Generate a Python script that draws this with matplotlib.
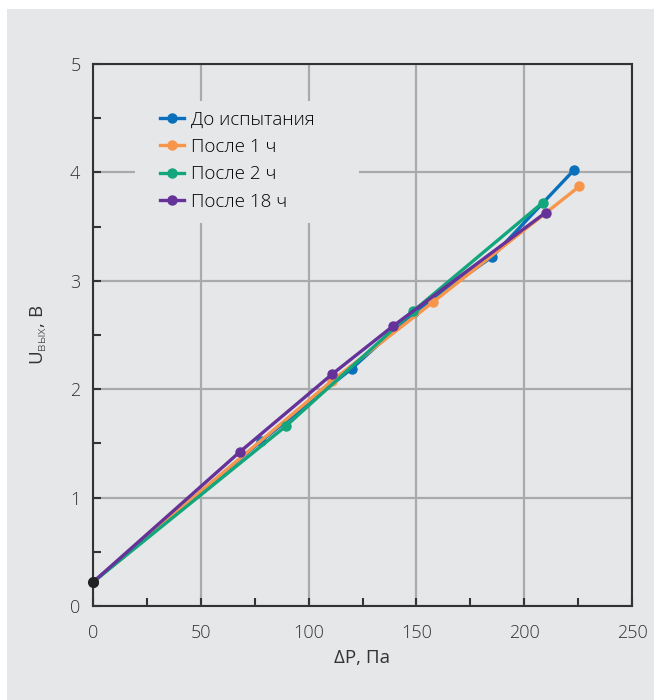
import matplotlib
matplotlib.use("Agg")
import matplotlib.pyplot as plt
from matplotlib.patches import Rectangle
from matplotlib.ticker import MultipleLocator

plt.rcParams['font.family'] = ['Open Sans', 'DejaVu Sans']
plt.rcParams['font.weight'] = 'light'
plt.rcParams['mathtext.fontset'] = 'custom'
plt.rcParams['mathtext.rm'] = 'Open Sans:light'

# data
labels = ['До испытания', 'После 1 ч', 'После 2 ч', 'После 18 ч']
colors = ['#0a70bb', '#f7964b', '#13a67d', '#65329a']

x_before = [0, 78, 120, 149, 185, 223]
y_before = [0.22, 1.52, 2.19, 2.71, 3.22, 4.02]

x_1h = [0, 111, 157.5, 225.5]
y_1h = [0.22, 2.08, 2.80, 3.87]

x_2h = [0, 89.5, 148.5, 208.5]
y_2h = [0.22, 1.66, 2.72, 3.72]

x_18h = [0, 68, 111, 139, 210]
y_18h = [0.22, 1.42, 2.14, 2.58, 3.63]

bg = '#e6e7e9'
txt = '#333333'

fig = plt.figure(figsize=(6.62, 7.0), dpi=100, facecolor='white')
# grey panel behind the chart
fig.add_artist(Rectangle((7 / 662, 0), 647 / 662, 691 / 700,
                         transform=fig.transFigure, facecolor=bg,
                         edgecolor='none', zorder=-10))

ax = fig.add_axes([93 / 662, 94 / 700, 539 / 662, 542 / 700])
ax.set_facecolor(bg)

series = [(x_before, y_before), (x_1h, y_1h), (x_2h, y_2h), (x_18h, y_18h)]
for (xs, ys), lab, c in zip(series, labels, colors):
    ax.plot(xs, ys, color=c, lw=2.4, marker='o', ms=6.5, label=lab, zorder=3)

# common start point drawn dark
ax.plot([x_before[0]], [y_before[0]], 'o', color='#222222', ms=7, zorder=4,
        clip_on=False)

ax.set_xlim(0, 250)
ax.set_ylim(0, 5)
ax.xaxis.set_major_locator(MultipleLocator(50))
ax.xaxis.set_minor_locator(MultipleLocator(25))
ax.yaxis.set_major_locator(MultipleLocator(1))
ax.yaxis.set_minor_locator(MultipleLocator(0.5))
ax.grid(True, which='major', color='#a9aaac', lw=1.6)
ax.set_axisbelow(True)

for s in ax.spines.values():
    s.set_color(txt)
    s.set_linewidth(1.5)
ax.tick_params(which='both', direction='in', length=6, width=1.5,
               color=txt, labelsize=13, labelcolor=txt)
ax.tick_params(axis='x', pad=13)
ax.tick_params(axis='y', pad=9)

ax.set_xlabel('ΔP, Па', fontsize=13.5, color=txt, labelpad=5)
ax.set_ylabel('U$_{\\mathrm{вых}}$, В', fontsize=13.5, color=txt, labelpad=15)

# patch under the legend hides the grid there
ax.add_patch(Rectangle((0.078, 0.7066), 0.4155, 0.225, transform=ax.transAxes,
                       facecolor=bg, edgecolor='none', zorder=1))

leg = ax.legend(loc='upper left', bbox_to_anchor=(0.124, 0.914),
                borderaxespad=0, frameon=False, fontsize=13.5,
                handlelength=1.3, handletextpad=0.35, labelspacing=0.5,
                borderpad=0)

fig.savefig('out.png', dpi=100, facecolor='white')
